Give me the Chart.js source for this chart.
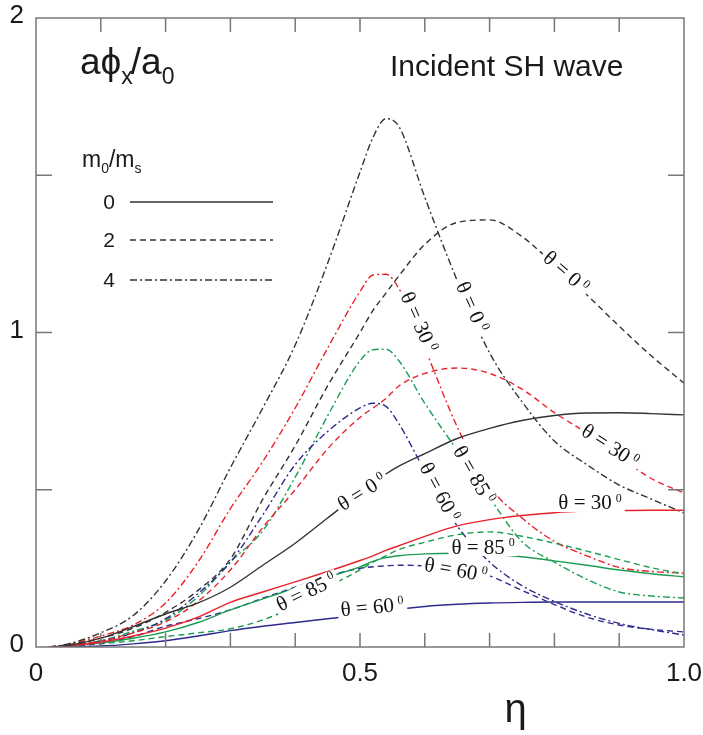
<!DOCTYPE html>
<html>
<head>
<meta charset="utf-8">
<script src="https://cdn.jsdelivr.net/npm/chart.js@4.4.0/dist/chart.umd.min.js"></script>
<style>
  html, body { margin: 0; padding: 0; background: #fff; }
</style>
</head>
<body>
<canvas id="chart" width="703" height="735"></canvas>
<script>
// shared eta grid
const eta = [0.02, 0.05, 0.1, 0.15, 0.2, 0.25, 0.3, 0.35, 0.4, 0.45, 0.5, 0.52, 0.54, 0.56, 0.6, 0.65, 0.7, 0.75, 0.8, 0.85, 0.9, 0.95, 1.0];

// m0/ms = 0 (solid)
const m0_t0  = [0, 0.005, 0.028, 0.065, 0.105, 0.14, 0.19, 0.26, 0.33, 0.41, 0.49, 0.52, 0.55, 0.575, 0.615, 0.663, 0.695, 0.72, 0.736, 0.744, 0.745, 0.742, 0.738];
const m0_t30 = [0, 0.004, 0.015, 0.035, 0.06, 0.095, 0.142, 0.175, 0.207, 0.24, 0.275, 0.29, 0.307, 0.322, 0.352, 0.385, 0.405, 0.418, 0.427, 0.432, 0.434, 0.435, 0.435];
const m0_t60 = [0, 0.001, 0.003, 0.01, 0.02, 0.035, 0.052, 0.066, 0.078, 0.09, 0.102, 0.108, 0.114, 0.12, 0.129, 0.136, 0.14, 0.142, 0.143, 0.143, 0.143, 0.143, 0.143];
const m0_t85 = [0, 0.004, 0.013, 0.028, 0.048, 0.078, 0.118, 0.153, 0.187, 0.222, 0.255, 0.272, 0.284, 0.29, 0.296, 0.298, 0.295, 0.287, 0.274, 0.26, 0.245, 0.233, 0.223];

// m0/ms = 2 (dashed)
const m2_t0  = [0, 0.007, 0.028, 0.06, 0.11, 0.18, 0.28, 0.47, 0.64, 0.83, 1.0, 1.07, 1.125, 1.18, 1.28, 1.35, 1.358, 1.305, 1.215, 1.12, 1.02, 0.925, 0.839];
const m2_t30 = [0, 0.005, 0.02, 0.045, 0.08, 0.145, 0.245, 0.38, 0.50, 0.63, 0.73, 0.76, 0.79, 0.83, 0.87, 0.887, 0.87, 0.82, 0.745, 0.68, 0.605, 0.535, 0.49];
const m2_t60 = [0, 0.003, 0.012, 0.033, 0.066, 0.09, 0.118, 0.155, 0.19, 0.225, 0.25, 0.255, 0.258, 0.26, 0.258, 0.248, 0.226, 0.18, 0.135, 0.095, 0.07, 0.056, 0.048];
const m2_t85 = [0, 0.003, 0.01, 0.02, 0.033, 0.045, 0.058, 0.086, 0.13, 0.19, 0.245, 0.27, 0.29, 0.31, 0.333, 0.357, 0.366, 0.352, 0.33, 0.305, 0.278, 0.252, 0.232];

// m0/ms = 4 (dash-dot)
const m4_t0  = [0, 0.01, 0.045, 0.1, 0.21, 0.37, 0.57, 0.76, 0.96, 1.22, 1.51, 1.62, 1.68, 1.655, 1.43, 1.165, 0.935, 0.78, 0.655, 0.58, 0.515, 0.47, 0.426];
const m4_t30 = [0, 0.008, 0.035, 0.07, 0.14, 0.27, 0.44, 0.59, 0.76, 0.95, 1.13, 1.183, 1.185, 1.14, 0.95, 0.70, 0.51, 0.41, 0.336, 0.29, 0.253, 0.24, 0.235];
const m4_t60 = [0, 0.004, 0.018, 0.045, 0.09, 0.17, 0.27, 0.42, 0.58, 0.685, 0.76, 0.775, 0.765, 0.71, 0.56, 0.385, 0.27, 0.195, 0.145, 0.105, 0.075, 0.055, 0.038];
const m4_t85 = [0, 0.005, 0.02, 0.05, 0.085, 0.16, 0.27, 0.37, 0.54, 0.735, 0.91, 0.945, 0.947, 0.91, 0.775, 0.625, 0.475, 0.335, 0.27, 0.215, 0.175, 0.162, 0.156];

// curve labels (theta in degrees), placed in data coords
const labelText  = ['0', '0', '30', '0', '85', '60', '30', '30', '85', '60', '85', '60'];
const labelEta   = [0.673, 0.818, 0.591, 0.503, 0.676, 0.623, 0.886, 0.855, 0.69, 0.648, 0.417, 0.519];
const labelVal   = [1.081, 1.192, 1.033, 0.493, 0.547, 0.493, 0.639, 0.458, 0.318, 0.245, 0.175, 0.127];
const labelAngle = [66, 41, 66, -32, 60, 62, 33, 0, 0, 10, -26, -5];

const xTickValues = [0, 0.5, 1.0];
const xTickLabels = ['0', '0.5', '1.0'];
const yTickValues = [0, 1, 2];
const yTickLabels = ['0', '1', '2'];
const legendRatios = ['0', '2', '4'];

const BLACK = '#333333', RED = '#e8222b', NAVY = '#2e2b8c', GREEN = '#1b9c52';
const SOLID = [], DASH = [6, 4], DASHDOT = [7, 3, 2, 3];
const SANS = '"Liberation Sans", "DejaVu Sans", sans-serif';
const SERIF = '"Liberation Serif", "DejaVu Serif", serif';

function series(vals, color, dash) {
    return {
        data: eta.map((x, i) => ({x: x, y: vals[i]})),
        borderColor: color,
        borderDash: dash,
        borderWidth: 1.4,
        pointRadius: 0,
        cubicInterpolationMode: 'monotone',
        fill: false
    };
}

const datasets = [
    series(m0_t0, BLACK, SOLID), series(m0_t30, RED, SOLID), series(m0_t60, NAVY, SOLID), series(m0_t85, GREEN, SOLID),
    series(m2_t0, BLACK, DASH), series(m2_t30, RED, DASH), series(m2_t60, NAVY, DASH), series(m2_t85, GREEN, DASH),
    series(m4_t0, BLACK, DASHDOT), series(m4_t30, RED, DASHDOT), series(m4_t60, NAVY, DASHDOT), series(m4_t85, GREEN, DASHDOT)
];

function textWithSubs(ctx, parts, x, y) {
    // parts: [text, size, dy, extra gap]
    parts.forEach(p => {
        ctx.font = p[1] + 'px ' + SANS;
        ctx.fillText(p[0], x, y + p[2]);
        x += ctx.measureText(p[0]).width + (p[3] || 0);
    });
}

const decor = {
    id: 'decor',
    afterDraw(chart) {
        const ctx = chart.ctx;
        const a = chart.chartArea;
        const xs = chart.scales.x, ys = chart.scales.y;
        ctx.save();

        // frame
        ctx.strokeStyle = '#777';
        ctx.lineWidth = 1.5;
        ctx.setLineDash([]);
        ctx.strokeRect(a.left, a.top, a.right - a.left, a.bottom - a.top);

        // inward ticks
        ctx.beginPath();
        for (let i = 1; i < 10; i++) {
            const px = xs.getPixelForValue(i / 10);
            ctx.moveTo(px, a.bottom); ctx.lineTo(px, a.bottom - 14);
            ctx.moveTo(px, a.top); ctx.lineTo(px, a.top + 14);
        }
        for (let i = 1; i < 4; i++) {
            const py = ys.getPixelForValue(i / 2);
            ctx.moveTo(a.left, py); ctx.lineTo(a.left + 16, py);
            ctx.moveTo(a.right, py); ctx.lineTo(a.right - 16, py);
        }
        ctx.stroke();

        // tick labels
        ctx.fillStyle = '#1a1a1a';
        ctx.font = '26px ' + SANS;
        ctx.textAlign = 'center';
        ctx.textBaseline = 'top';
        xTickValues.forEach((v, i) => ctx.fillText(xTickLabels[i], xs.getPixelForValue(v), a.bottom + 14));
        ctx.textAlign = 'right';
        ctx.textBaseline = 'middle';
        yTickValues.forEach((v, i) => ctx.fillText(yTickLabels[i], a.left - 12, ys.getPixelForValue(v) - 2));

        // curve labels
        ctx.textBaseline = 'middle';
        ctx.textAlign = 'left';
        labelText.forEach((t, i) => {
            const px = xs.getPixelForValue(labelEta[i]);
            const py = ys.getPixelForValue(labelVal[i]);
            ctx.save();
            ctx.translate(px, py);
            ctx.rotate(labelAngle[i] * Math.PI / 180);
            ctx.font = '21px ' + SERIF;
            const main = '\u03B8 = ' + t;
            const w1 = ctx.measureText(main).width;
            ctx.font = '12px ' + SERIF;
            const w2 = ctx.measureText('0').width;
            const w = w1 + 4 + w2;
            ctx.fillStyle = '#fff';
            ctx.fillRect(-w / 2 - 3, -9, w + 6, 18);
            ctx.fillStyle = '#111';
            ctx.font = '21px ' + SERIF;
            ctx.fillText(main, -w / 2, 1);
            ctx.font = '12px ' + SERIF;
            ctx.fillText('0', -w / 2 + w1 + 4, -4);
            ctx.restore();
        });

        // titles
        ctx.fillStyle = '#1a1a1a';
        ctx.textAlign = 'left';
        ctx.textBaseline = 'alphabetic';
        textWithSubs(ctx, [['a\u03D5', 37, 0], ['x', 23, 10, -2], ['/a', 37, 0], ['0', 23, 10]], a.left + 44, a.top + 56);
        ctx.font = '30px ' + SANS;
        ctx.fillText('Incident SH wave', a.left + 354, a.top + 58);

        // legend
        textWithSubs(ctx, [['m', 23, 0], ['0', 14, 6], ['/m', 23, 0], ['s', 14, 6]], a.left + 46, a.top + 149);
        const dashes = [SOLID, DASH, DASHDOT];
        const rowY = [184, 222, 262];
        ctx.strokeStyle = BLACK;
        ctx.lineWidth = 1.5;
        legendRatios.forEach((r, i) => {
            const y = a.top + rowY[i];
            ctx.font = '21px ' + SANS;
            ctx.textAlign = 'center';
            ctx.textBaseline = 'middle';
            ctx.fillText(r, a.left + 73, y + 1);
            ctx.setLineDash(dashes[i]);
            ctx.beginPath();
            ctx.moveTo(a.left + 94, y); ctx.lineTo(a.left + 237, y);
            ctx.stroke();
        });
        ctx.setLineDash([]);

        // x axis title
        ctx.font = '40px ' + SANS;
        ctx.textAlign = 'center';
        ctx.textBaseline = 'alphabetic';
        ctx.fillText('\u03B7', xs.getPixelForValue(0.74), a.bottom + 75);
        ctx.restore();
    }
};

new Chart(document.getElementById('chart'), {
    type: 'line',
    data: {datasets: datasets},
    options: {
        responsive: false,
        animation: false,
        layout: {padding: {top: 18, right: 19, left: 0, bottom: 0}},
        plugins: {legend: {display: false}, tooltip: {enabled: false}},
        scales: {
            x: {
                type: 'linear', min: 0, max: 1,
                grid: {display: false, drawTicks: false},
                border: {display: false},
                ticks: {display: false},
                afterFit: s => { s.height = 88; }
            },
            y: {
                min: 0, max: 2,
                grid: {display: false, drawTicks: false},
                border: {display: false},
                ticks: {display: false},
                afterFit: s => { s.width = 36; }
            }
        }
    },
    plugins: [decor]
});
</script>
</body>
</html>
